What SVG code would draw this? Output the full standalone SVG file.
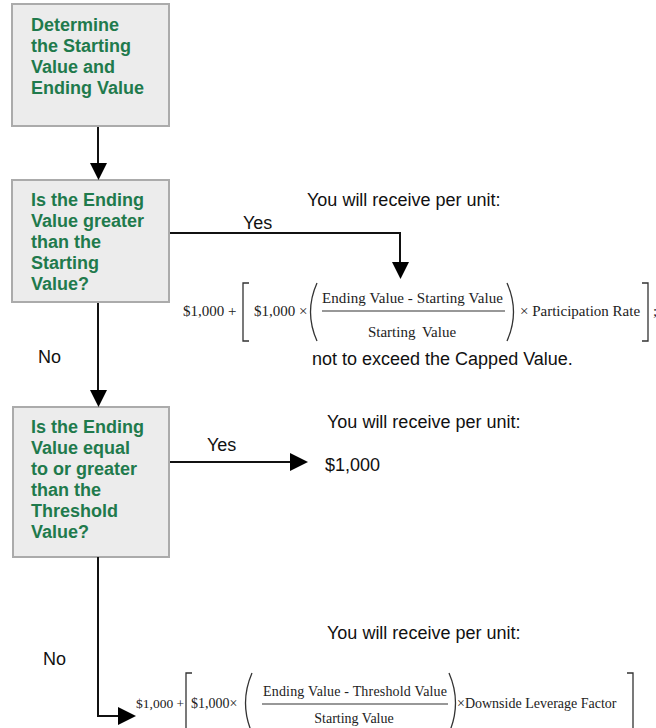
<svg xmlns="http://www.w3.org/2000/svg" width="656" height="728" viewBox="0 0 656 728">
<style>
.box{fill:#ececec;stroke:#ababab;stroke-width:2}
.q{font-family:"Liberation Sans",Arial,sans-serif;font-weight:bold;font-size:18px;fill:#1f7a4c}
.t{font-family:"Liberation Sans",Arial,sans-serif;font-size:18px;fill:#111}
.m{font-family:"Liberation Serif","Times New Roman",serif;fill:#222}
.ln{fill:none;stroke:#111;stroke-width:2}
.br{fill:none;stroke:#333;stroke-width:1.3}
.ah{fill:#000}
</style>
<rect width="656" height="728" fill="#fff"/>
<g id="node-start">
<rect class="box" x="12" y="4" width="157" height="122"/>
<text class="q" x="31" y="31">Determine</text>
<text class="q" x="31" y="52">the Starting</text>
<text class="q" x="31" y="73">Value and</text>
<text class="q" x="31" y="94">Ending Value</text>
</g>
<g id="node-q1">
<rect class="box" x="12" y="180" width="157" height="122"/>
<text class="q" x="31" y="206">Is the Ending</text>
<text class="q" x="31" y="227">Value greater</text>
<text class="q" x="31" y="248">than the</text>
<text class="q" x="31" y="269">Starting</text>
<text class="q" x="31" y="290">Value?</text>
</g>
<g id="node-q2">
<rect class="box" x="13" y="407" width="156" height="150"/>
<text class="q" x="31" y="433">Is the Ending</text>
<text class="q" x="31" y="454">Value equal</text>
<text class="q" x="31" y="475">to or greater</text>
<text class="q" x="31" y="496">than the</text>
<text class="q" x="31" y="517">Threshold</text>
<text class="q" x="31" y="538">Value?</text>
</g>
<g id="connectors">
<path class="ln" d="M98 127 V165"/>
<path class="ah" d="M90 163 H107 L98.5 180 Z"/>
<path class="ln" d="M170 233 H400 V264"/>
<path class="ah" d="M392 262 H409 L400.5 279 Z"/>
<path class="ln" d="M98 303 V392"/>
<path class="ah" d="M90 390 H107 L98.5 407 Z"/>
<path class="ln" d="M170 462 H292"/>
<path class="ah" d="M290 453 V471 L308 462 Z"/>
<path class="ln" d="M98 557 V716 H120"/>
<path class="ah" d="M118 707 V725 L136 716 Z"/>
<text class="t" x="243" y="229">Yes</text>
<text class="t" x="38" y="363">No</text>
<text class="t" x="207" y="451">Yes</text>
<text class="t" x="43" y="665">No</text>
</g>
<g id="result-1">
<text class="t" x="307" y="206">You will receive per unit:</text>
<text class="m" font-size="15" x="183" y="316">$1,000 +</text>
<path class="br" d="M249 283 H243 V341 H249"/>
<text class="m" font-size="15" x="254" y="316">$1,000 ×</text>
<path class="br" d="M317 283 Q304 312 317 341"/>
<text class="m" font-size="15" x="322" y="303" textLength="181" lengthAdjust="spacing">Ending  Value - Starting  Value</text>
<path d="M322 311 H505" stroke="#333" stroke-width="1.2"/>
<text class="m" font-size="15" x="412" y="337" text-anchor="middle" word-spacing="3">Starting Value</text>
<path class="br" d="M507 283 Q520 312 507 341"/>
<text class="m" font-size="15" x="520" y="316">× Participation Rate</text>
<path class="br" d="M642 283 H648 V341 H642"/>
<text class="m" font-size="15" x="653" y="316">;</text>
<text class="t" x="312" y="365">not to exceed the Capped Value.</text>
</g>
<g id="result-2">
<text class="t" x="327" y="428">You will receive per unit:</text>
<text class="t" x="325" y="471">$1,000</text>
</g>
<g id="result-3">
<text class="t" x="327" y="639">You will receive per unit:</text>
<text class="m" font-size="13.5" x="136" y="708">$1,000 +</text>
<path class="br" d="M192 673 H186 V735"/>
<text class="m" font-size="14" x="191" y="708">$1,000×</text>
<path class="br" d="M252 673 Q239 703 252 733"/>
<text class="m" font-size="14" x="263" y="696" textLength="184" lengthAdjust="spacing">Ending Value - Threshold Value</text>
<path d="M262 704 H448" stroke="#333" stroke-width="1.2"/>
<text class="m" font-size="14" x="354" y="723" text-anchor="middle">Starting Value</text>
<path class="br" d="M449 673 Q462 703 449 733"/>
<text class="m" font-size="14" x="457" y="708">×Downside Leverage Factor</text>
<path class="br" d="M627 673 H633 V735"/>
</g>
</svg>
